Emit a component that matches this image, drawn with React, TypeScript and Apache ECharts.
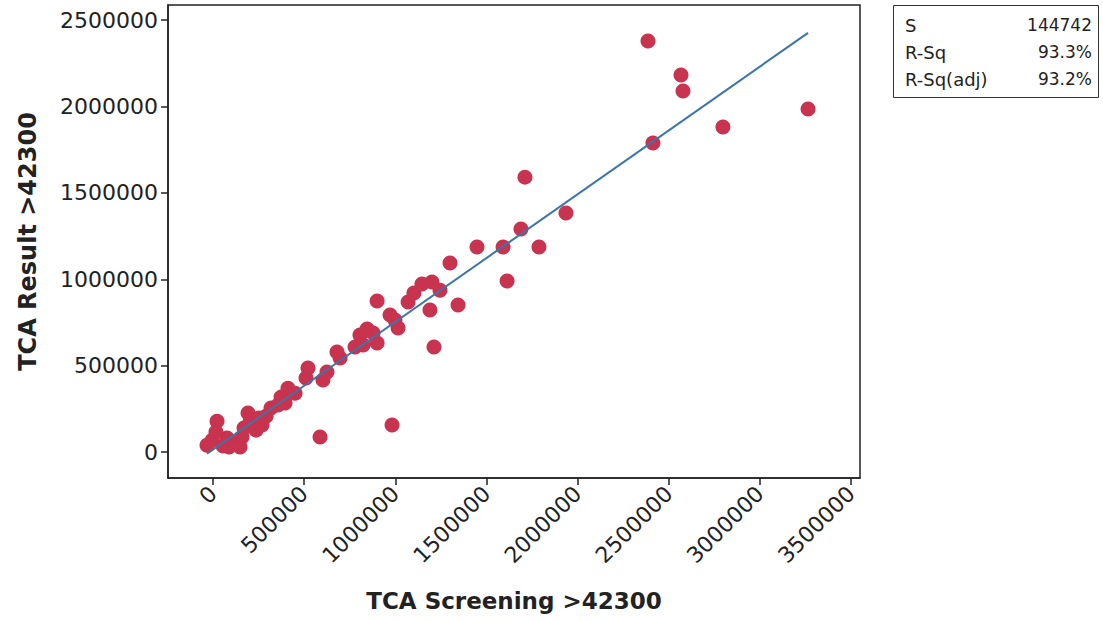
import React, { useEffect, useRef } from "react";
import * as echarts from "echarts";

const screening = [
  -33000, -5000, 22000, 16000, 55000, 77000, 110000, 148000, 159000, 170000,
  192000, 203000, 236000, 252000, 291000, 318000, 357000, 395000, 411000, 450000,
  510000, 521000, 603000, 625000, 680000, 697000, 779000, 806000, 845000, 878000,
  900000, 900000, 971000, 998000, 1015000, 1070000, 1102000, 1146000, 1201000, 1245000,
  1190000, 1344000, 1212000, 1300000, 1448000, 1591000, 1788000, 1613000, 1689000, 1711000,
  1936000, 2386000, 2567000, 2578000, 2413000, 2797000, 3264000, 587000, 982000, 269000,
  373000, 823000, 88000,
];
const result = [
  40000, 69000, 179000, 116000, 35000, 81000, 52000, 29000, 87000, 139000,
  226000, 174000, 127000, 197000, 208000, 255000, 272000, 284000, 370000, 341000,
  428000, 486000, 417000, 463000, 579000, 544000, 608000, 677000, 712000, 689000,
  631000, 874000, 793000, 764000, 718000, 868000, 920000, 972000, 984000, 937000,
  822000, 851000, 608000, 1094000, 1186000, 1186000, 1186000, 990000, 1291000, 1591000,
  1383000, 2378000, 2182000, 2089000, 1788000, 1881000, 1985000, 87000, 156000, 156000,
  318000, 619000, 29000,
];

const fitX = [-33000, 3264000];
const fitY = [-10000, 2426000];

const xTicks = [0, 500000, 1000000, 1500000, 2000000, 2500000, 3000000, 3500000];
const yTicks = [0, 500000, 1000000, 1500000, 2000000, 2500000];

const xTitle = "TCA Screening >42300";
const yTitle = "TCA Result >42300";

const statLabels = ["S", "R-Sq", "R-Sq(adj)"];
const statValues = ["144742", "93.3%", "93.2%"];

const FONT = "DejaVu Sans";

export default function App() {
  const ref = useRef<HTMLDivElement>(null);

  useEffect(() => {
    if (!ref.current) return;
    const chart = echarts.init(ref.current, null, { renderer: "svg" });

    const points = screening.map((x, i) => [x, result[i]]);
    const fit = fitX.map((x, i) => [x, fitY[i]]);

    const statTexts: any[] = [];
    const rowY = [25, 52, 79];
    statLabels.forEach((t, i) => {
      statTexts.push({
        type: "text",
        x: 905,
        y: rowY[i],
        style: {
          text: t,
          fontFamily: FONT,
          fontSize: 18,
          fill: "#222",
          align: "left",
          verticalAlign: "middle",
        },
      });
      statTexts.push({
        type: "text",
        x: 1092,
        y: rowY[i],
        style: {
          text: statValues[i],
          fontFamily: FONT,
          fontSize: 17,
          fill: "#222",
          align: "right",
          verticalAlign: "middle",
        },
      });
    });

    chart.setOption({
      animation: false,
      backgroundColor: "#ffffff",
      grid: {
        left: 168,
        right: 243,
        top: 5,
        bottom: 144,
        show: true,
        borderColor: "#222",
        borderWidth: 1.5,
        containLabel: false,
        outerBoundsMode: "none",
      },
      xAxis: {
        type: "value",
        min: -247000,
        max: 3549000,
        splitLine: { show: false },
        axisLine: { show: true, onZero: false, lineStyle: { color: "#222", width: 1.5 } },
        axisTick: {
          show: true,
          inside: false,
          length: 7,
          customValues: xTicks,
          lineStyle: { color: "#222", width: 1.5 },
        },
        axisLabel: {
          customValues: xTicks,
          rotate: 45,
          margin: 12,
          fontFamily: FONT,
          fontSize: 22,
          color: "#222",
          formatter: (v: number) => String(v),
        },
        name: xTitle,
        nameLocation: "middle",
        nameGap: 111,
        nameTextStyle: {
          fontFamily: FONT,
          fontSize: 23,
          fontWeight: "bold",
          color: "#222",
        },
      },
      yAxis: {
        type: "value",
        min: -150000,
        max: 2587000,
        splitLine: { show: false },
        axisLine: { show: true, onZero: false, lineStyle: { color: "#222", width: 1.5 } },
        axisTick: {
          show: true,
          inside: false,
          length: 7,
          customValues: yTicks,
          lineStyle: { color: "#222", width: 1.5 },
        },
        axisLabel: {
          customValues: yTicks,
          margin: 10,
          fontFamily: FONT,
          fontSize: 22,
          color: "#222",
          formatter: (v: number) => String(v),
        },
        name: yTitle,
        nameLocation: "middle",
        nameGap: 128,
        nameTextStyle: {
          fontFamily: FONT,
          fontSize: 24,
          fontWeight: "bold",
          color: "#222",
        },
      },
      series: [
        {
          type: "scatter",
          data: points,
          symbol: "circle",
          symbolSize: 15,
          itemStyle: { color: "#c8334f", opacity: 1 },
          z: 2,
        },
        {
          type: "line",
          data: fit,
          showSymbol: false,
          symbol: "none",
          lineStyle: { color: "#3b75a9", width: 2 },
          z: 3,
        },
      ],
      graphic: [
        {
          type: "rect",
          shape: { x: 893.5, y: 5.5, width: 205, height: 92 },
          style: { fill: "#fff", stroke: "#333", lineWidth: 1 },
        },
        ...statTexts,
      ],
    });

    return () => {
      chart.dispose();
    };
  }, []);

  return (
    <div
      ref={ref}
      style={{ position: "fixed", left: 0, top: 0, width: 1103, height: 622 }}
    />
  );
}
